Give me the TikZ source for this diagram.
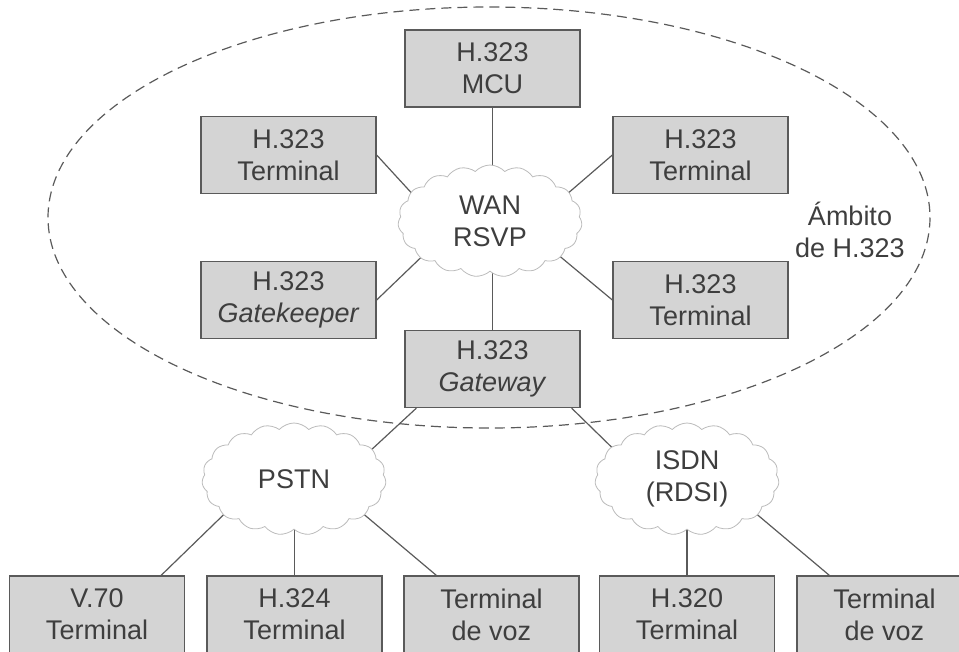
\documentclass[tikz,border=0pt]{standalone}
\usepackage{fontspec}
\setmainfont{Liberation Sans}
\usetikzlibrary{shapes.symbols,calc,backgrounds}
\definecolor{ink}{HTML}{3E3E3E}
\definecolor{boxfill}{HTML}{D4D4D4}
\definecolor{edge}{HTML}{5A5A5A}
\definecolor{puff}{HTML}{BCBCBC}
\begin{document}
\begin{tikzpicture}[x=1pt,y=-1pt,
  every node/.style={font=\fontsize{27}{32}\selectfont, text=ink, align=center},
  unit/.style={draw=edge, line width=1.3pt, fill=boxfill, minimum width=175pt,
    minimum height=77pt, inner sep=0pt},
  net/.style={cloud, cloud puffs=19, cloud puff arc=95, aspect=1.62, draw=puff,
    line width=0.8pt, fill=white, minimum width=184pt, minimum height=112pt, inner sep=0pt},
  link/.style={draw=edge, line width=1.2pt},
  region/.style={draw=edge, dash pattern=on 10pt off 6pt, line width=1.2pt}]
\useasboundingbox (0,0) rectangle (959,651);
\clip (0,0) rectangle (959,651);

% H.323 zone
\node[unit] (mcu) at (492.5,68.5) {H.323\\MCU};
\node[unit] (t1)  at (288.5,155)  {H.323\\Terminal};
\node[unit] (t2)  at (700.5,155)  {H.323\\Terminal};
\node[unit] (gk)  at (288.5,300)  {H.323\\\textit{Gatekeeper}};
\node[unit] (t3)  at (700.5,300)  {H.323\\Terminal};
\node[unit] (gw)  at (492.5,369)  {H.323\\\textit{Gateway}};
\node[net]  (wan) at (490,221)    {WAN\\RSVP};
\node (amb) at (850,230) {Ámbito\\de H.323};

% circuit-switched networks
\node[net] (pstn) at (294,479) {PSTN};
\node[net] (isdn) at (687,479) {ISDN\\(RDSI)};

% terminals outside the zone
\node[unit] (v70)  at (97,614.5)    {V.70\\Terminal};
\node[unit] (h324) at (294.5,614.5) {H.324\\Terminal};
\node[unit] (tv1)  at (491.5,614.5) {Terminal\\de voz};
\node[unit] (h320) at (687,614.5)   {H.320\\Terminal};
\node[unit] (tv2)  at (884.5,614.5) {Terminal\\de voz};

\begin{pgfonlayer}{background}
  \draw[region] (489,217.5) ellipse [x radius=441, y radius=210.5];
  \path[link] (mcu.south) -- (mcu.south |- wan.center);
  \path[link] (gw.north) -- (gw.north |- wan.center);
  \path[link] (t1.east) -- ($(t1.east)!1.2!(wan.160)$);
  \path[link] (t2.west) -- ($(t2.west)!1.2!(wan.20)$);
  \path[link] (gk.east) -- ($(gk.east)!1.2!(wan.208)$);
  \path[link] (t3.west) -- ($(t3.west)!1.2!(wan.333)$);
  \coordinate (gwl) at ($(gw.south west)+(12,0)$);
  \coordinate (gwr) at ($(gw.south east)+(-9,0)$);
  \path[link] (gwl) -- ($(gwl)!1.2!(pstn.21)$);
  \path[link] (gwr) -- ($(gwr)!1.2!(isdn.157)$);
  \coordinate (v70t) at ($(v70.north east)+(-24,0)$);
  \coordinate (tv1t) at ($(tv1.north west)+(33,0)$);
  \coordinate (tv2t) at ($(tv2.north west)+(33,0)$);
  \path[link] (v70t) -- ($(v70t)!1.2!(pstn.207)$);
  \path[link] (h324.north) -- (h324.north |- pstn.center);
  \path[link] (tv1t) -- ($(tv1t)!1.2!(pstn.333)$);
  \path[link] (h320.north) -- (h320.north |- isdn.center);
  \path[link] (tv2t) -- ($(tv2t)!1.2!(isdn.333)$);
\end{pgfonlayer}
\end{tikzpicture}
\end{document}
